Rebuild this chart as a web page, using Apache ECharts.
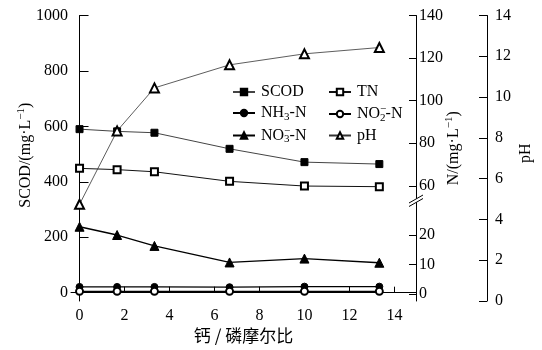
<!DOCTYPE html>
<html><head><meta charset="utf-8">
<script src="https://cdn.jsdelivr.net/npm/echarts@6/dist/echarts.min.js"></script>
<style>html,body{margin:0;padding:0;background:#fff}#c{width:542px;height:350px}</style>
</head><body><div id="c"></div>
<script>
// ---- data ----
const ratio = [0, 1.67, 3.33, 6.67, 10, 13.33];
const scod = [590, 582, 577, 519, 471, 464];
const tn = [68.2, 67.6, 66.6, 62.1, 59.9, 59.6];
const nh3 = [2.4, 2.4, 2.4, 2.3, 2.5, 2.5];
const no2 = [0.9, 0.9, 0.9, 0.9, 0.9, 0.9];
const no3 = [22.8, 20.0, 16.3, 10.7, 12.0, 10.6];
const ph = [4.74, 8.34, 10.45, 11.58, 12.12, 12.43];
const xTicks = [0, 2, 4, 6, 8, 10, 12, 14];
const scodTicks = [0, 200, 400, 600, 800, 1000];
const nHighTicks = [60, 80, 100, 120, 140];
const nLowTicks = [0, 10, 20];
const phTicks = [0, 2, 4, 6, 8, 10, 12, 14];
const xName = '钙 / 磷摩尔比';

const SERIF = 'Liberation Serif';
const CJK = 'Noto Sans CJK SC';
const pairs = arr => ratio.map((x, i) => [x, arr[i]]);

const richSupSub = {
  sub: {fontSize: 11, fontFamily: SERIF, color: '#000', padding: [8, 0, 0, 0]},
  sup: {fontSize: 11, fontFamily: SERIF, color: '#000', padding: [0, 0, 9, 0]},
  supz: {fontSize: 11, fontFamily: SERIF, color: '#000', padding: [0, 0, 9, 0], width: 0}
};
const legendNames = {
  'SCOD': 'SCOD', 'TN': 'TN', 'pH': 'pH',
  'NH3-N': 'NH{sub|3}-N',
  'NO2-N': 'NO{supz|−}{sub|2}-N',
  'NO3-N': 'NO{supz|−}{sub|3}-N'
};

const mkLabel = (vals, margin) => ({
  customValues: vals, margin: margin, color: '#000',
  fontFamily: SERIF, fontSize: 16,
  formatter: v => '{n|' + v + '}',
  rich: {n: {fontFamily: SERIF, fontSize: 16, color: '#000'}}
});
const mkTick = (vals, len) => ({
  show: true, inside: true, length: len, customValues: vals, lineStyle: {color: '#000', width: 1}
});
const axisLineStyle = {show: true, lineStyle: {color: '#000', width: 1}};
const nameStyle = pad => ({color: '#000', fontFamily: SERIF, fontSize: 16, rich: richSupSub, padding: pad});

const mkSeries = (name, data, yIdx, symbol, size, lw, lc) => ({
  name, type: 'line', data: pairs(data), yAxisIndex: yIdx,
  symbol, symbolSize: size, showSymbol: true,
  itemStyle: {color: '#000', borderColor: '#000', borderWidth: 1},
  lineStyle: {color: lc, width: lw},
  emphasis: {disabled: true}, animation: false
});

const legendCommon = {
  orient: 'vertical', itemWidth: 22, itemHeight: 8, itemGap: 3,
  selectedMode: false,
  textStyle: {color: '#000', fontFamily: SERIF, fontSize: 16, lineHeight: 18, padding: [0, 0, 0, 1], rich: richSupSub},
  formatter: n => legendNames[n]
};

const chart = echarts.init(document.getElementById('c'), null, {renderer: 'canvas'});
chart.setOption({
  animation: false,
  backgroundColor: '#fff',
  grid: {left: 71, right: 126, top: 15.5, bottom: 49, containLabel: false, outerBoundsMode: 'none'},
  legend: [
    Object.assign({}, legendCommon, {left: 227, top: 78, data: ['SCOD', 'NH3-N', 'NO3-N']}),
    Object.assign({}, legendCommon, {left: 323, top: 78, data: ['TN', 'NO2-N', 'pH']})
  ],
  xAxis: {
    type: 'value', min: -0.38, max: 14.96, splitLine: {show: false},
    axisLine: axisLineStyle, axisTick: mkTick(xTicks, 6), axisLabel: mkLabel(xTicks, 7),
    name: xName, nameLocation: 'middle', nameGap: 26, nameMoveOverlap: false,
    nameTextStyle: {color: '#000', fontFamily: CJK, fontSize: 17}
  },
  yAxis: [
    {
      type: 'value', position: 'left', min: -30, max: 1000, splitLine: {show: false},
      axisLine: axisLineStyle, axisTick: mkTick(scodTicks, 9), axisLabel: mkLabel(scodTicks, 3),
      name: 'SCOD/(mg·L{sup|−1})', nameLocation: 'middle', nameGap: 35, nameMoveOverlap: false,
      nameTextStyle: nameStyle([0, 0, 0, 6])
    },
    {
      type: 'value', position: 'right', offset: 0, min: 5.9, max: 140, splitLine: {show: false},
      axisLine: axisLineStyle, axisTick: mkTick(nHighTicks, 7), axisLabel: mkLabel(nHighTicks, 3),
      name: 'N/(mg·L{sup|−1})', nameLocation: 'middle', nameGap: 28, nameMoveOverlap: false,
      nameTextStyle: nameStyle([0, 0, 0, 20])
    },
    {
      type: 'value', position: 'right', offset: 0, min: -2.37, max: 94.4, splitLine: {show: false},
      axisLine: {show: false}, axisTick: mkTick(nLowTicks, 7), axisLabel: mkLabel(nLowTicks, 3)
    },
    {
      type: 'value', position: 'right', offset: 71, min: 0, max: 14, interval: 2, splitLine: {show: false},
      axisLine: axisLineStyle, axisTick: mkTick(phTicks, 8), axisLabel: mkLabel(phTicks, 8),
      name: 'pH', nameLocation: 'middle', nameGap: 31, nameMoveOverlap: false,
      nameTextStyle: nameStyle([0, 0, 0, 10])
    }
  ],
  series: [
    mkSeries('SCOD', scod, 0, 'rect', 7, 1, '#444'),
    mkSeries('TN', tn, 1, 'emptyRect', 7, 1, '#111'),
    mkSeries('NH3-N', nh3, 2, 'circle', 7, 1.3, '#000'),
    mkSeries('NO2-N', no2, 2, 'emptyCircle', 7, 1.3, '#000'),
    mkSeries('NO3-N', no3, 2, 'triangle', 9, 1.3, '#000'),
    mkSeries('pH', ph, 3, 'emptyTriangle', 9, 0.8, '#333')
  ],
  graphic: [
    {type: 'polygon', shape: {points: [[409, 206.5], [423, 198.5], [423, 195], [409, 203]]}, style: {fill: '#fff'}, z: 100},
    {type: 'line', shape: {x1: 409, y1: 206.5, x2: 423, y2: 198.5}, style: {stroke: '#000', lineWidth: 1}, z: 101},
    {type: 'line', shape: {x1: 409, y1: 203, x2: 423, y2: 195}, style: {stroke: '#000', lineWidth: 1}, z: 101}
  ]
});
</script>
</body></html>
